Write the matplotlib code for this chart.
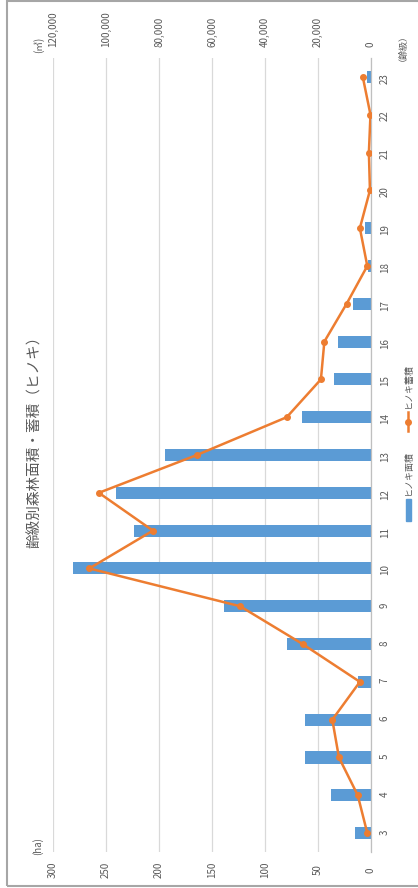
import matplotlib
matplotlib.use("Agg")
import matplotlib.pyplot as plt
from matplotlib.patches import Rectangle
from matplotlib.lines import Line2D
from matplotlib.ticker import FuncFormatter

plt.rcParams['font.family'] = ['Noto Sans CJK JP', 'DejaVu Sans']

title = "齢級別森林面積・蓄積（ヒノキ）"
ages = list(range(3, 24))
age_labels = [str(a) for a in ages]
area = [15, 38, 62, 62, 12, 79, 139, 281, 224, 241, 194, 65, 35, 31, 17, 3, 6, 0, 0, 0, 4]
volume = [1400, 5000, 12100, 14600, 4200, 25800, 49400, 106300, 82300, 102700, 65700,
          31800, 18900, 17600, 9200, 1400, 4200, 400, 800, 200, 3100]
area_ticks = [0, 50, 100, 150, 200, 250, 300]
vol_ticks = [0, 20000, 40000, 60000, 80000, 100000, 120000]
legend_area = "ヒノキ面積"
legend_vol = "ヒノキ蓄積"

BLUE = '#5B9BD5'
ORANGE = '#ED7D31'
GRID = '#D9D9D9'
TXT = '#595959'

W, H = 418, 888
fig = plt.figure(figsize=(W / 100, H / 100), dpi=100)

def fx(px):
    return px / W

def fy(py):
    return 1 - py / H

x0, x1 = 53, 371
y0, y1 = 58, 852
ax = fig.add_axes([fx(x0), fy(y1), (x1 - x0) / W, (y1 - y0) / H])
ax.barh(ages, area, height=0.32, color=BLUE, zorder=2)
ax.set_xlim(300, 0)
ax.set_ylim(2.5, 23.5)
ax.set_xticks(area_ticks)
ax.set_xticklabels([str(t) for t in area_ticks], rotation=90, va='center',
                   color=TXT, fontsize=7)
ax.tick_params(axis='x', length=0, pad=13)
ax.set_yticks(ages)
ax.set_yticklabels(age_labels, rotation=90, color=TXT, fontsize=7, ha='center')
ax.yaxis.tick_right()
ax.tick_params(axis='y', length=0, pad=10)
ax.grid(axis='x', color=GRID, lw=0.9, zorder=0)
ax.set_axisbelow(True)
for s in ['top', 'bottom', 'left']:
    ax.spines[s].set_visible(False)
ax.spines['right'].set_color('#BFBFBF')
ax.spines['right'].set_linewidth(0.9)

ax2 = ax.twiny()
ax2.plot(volume, ages, color=ORANGE, lw=1.8, marker='o', markersize=4,
         markerfacecolor=ORANGE, markeredgecolor=ORANGE, zorder=3)
ax2.set_xlim(120000, 0)
ax2.set_xticks(vol_ticks)
ax2.xaxis.set_major_formatter(FuncFormatter(lambda v, p: f"{int(v):,}"))
ax2.tick_params(axis='x', length=0, pad=8, labelsize=7, labelcolor=TXT, labelrotation=90)
for s in ax2.spines.values():
    s.set_visible(False)

fig.text(fx(35), fy(438), title, rotation=90, ha='center', va='center',
         fontsize=10.5, color=TXT)
fig.text(fx(39), fy(45), "(㎥)", rotation=90, ha='center', va='center',
         fontsize=7, color=TXT)
fig.text(fx(398), fy(43), "（齢級）", rotation=90, ha='center', va='center',
         fontsize=6.5, color=TXT)
fig.text(fx(38), fy(846), "(ha)", rotation=90, ha='center', va='center',
         fontsize=7, color=TXT)

# legend (rotated)
fig.add_artist(Rectangle((fx(405.5), fy(521)), 5 / W, 22 / H, transform=fig.transFigure,
                         color=BLUE))
fig.add_artist(Line2D([fx(408), fx(408)], [fy(431), fy(412)], transform=fig.transFigure,
                      color=ORANGE, lw=1.8))
fig.add_artist(Line2D([fx(408)], [fy(422)], transform=fig.transFigure, color=ORANGE,
                      marker='o', markersize=4))
fig.text(fx(408), fy(472), legend_area, rotation=90, ha='center', va='center',
         fontsize=6.5, color=TXT)
fig.text(fx(408), fy(385), legend_vol, rotation=90, ha='center', va='center',
         fontsize=6.5, color=TXT)

# outer border
fig.add_artist(Rectangle((fx(7), fy(886)), 1.0, (886 - 1) / H, transform=fig.transFigure,
                         fill=False, edgecolor='#A6A6A6', lw=1.5))

fig.savefig("out.png", dpi=100, facecolor='white')
